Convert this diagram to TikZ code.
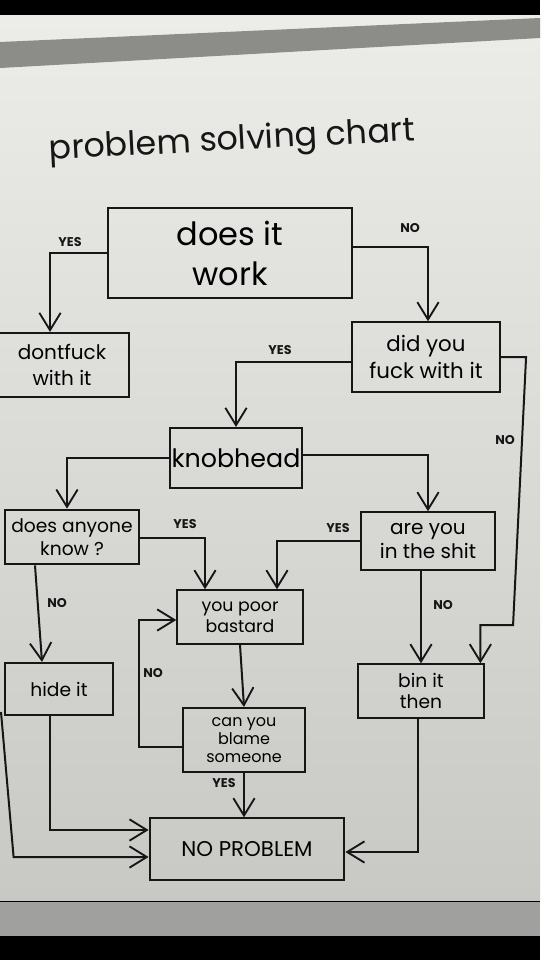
\documentclass[tikz,border=0pt]{standalone}
\usepackage{fontspec}
\setmainfont{Poppins}
\usetikzlibrary{arrows.meta,calc}
\definecolor{paper}{RGB}{236,236,233}
\definecolor{paperlow}{RGB}{200,200,197}
\definecolor{strip}{RGB}{140,140,136}
\definecolor{ink}{RGB}{22,22,22}
\tikzset{every picture/.style={line width=1.5pt}}
\tikzset{
  chartbox/.style={draw=ink, align=center, inner sep=1pt, line width=1.6pt},
  yesno/.style={font=\bfseries\fontsize{9.5}{10}\selectfont, text=ink, inner sep=0.75pt},
  flow/.style={draw=ink, line width=1.5pt, -{Straight Barb[length=13pt,width=16pt,line width=1.4pt]}},
}

\begin{document}
\begin{tikzpicture}[x=0.75pt,y=0.75pt,yscale=-1,xscale=1]
\useasboundingbox (0,0) rectangle (540,960);

%Photo background
\fill[black] (0,0) rectangle (540,960);
\shade[top color=paper, bottom color=paperlow] (0,15) rectangle (540,900);
\fill[strip] (0,42) -- (540,18) -- (540,38) -- (0,68) -- cycle;
\fill[paperlow!80!black] (0,902) rectangle (540,936);

% Title
\node (title) [rotate=3, text=ink, font=\fontsize{25}{28}\selectfont] at (232,142) {problem solving chart};

% Boxes
\node (work) [chartbox, minimum width=183pt, minimum height=68pt, font=\fontsize{24}{30}\selectfont] at (230,253) {does it\\work};
\node (dfw) [chartbox, minimum width=101pt, minimum height=48pt, font=\fontsize{15}{19}\selectfont] at (62,365) {dontfuck\\with it};
\node (did) [chartbox, minimum width=111pt, minimum height=52pt, font=\fontsize{16}{20}\selectfont] at (426,357) {did you\\fuck with it};
\node (knob) [chartbox, minimum width=99pt, minimum height=45pt, font=\fontsize{19}{23}\selectfont] at (236,458) {knobhead};
\node (dany) [chartbox, minimum width=101pt, minimum height=41pt, font=\fontsize{14}{17}\selectfont] at (72,537) {does anyone\\know ?};
\node (ayou) [chartbox, minimum width=101pt, minimum height=43pt, font=\fontsize{15}{18}\selectfont] at (428,541) {are you\\in the shit};
\node (poor) [chartbox, minimum width=94pt, minimum height=40pt, font=\fontsize{13}{16}\selectfont] at (240,617) {you poor\\bastard};
\node (hide) [chartbox, minimum width=81pt, minimum height=39pt, font=\fontsize{14}{17}\selectfont] at (59,689) {hide it};
\node (bin) [chartbox, minimum width=95pt, minimum height=40pt, font=\fontsize{14}{16}\selectfont] at (421,691) {bin it\\then};
\node (can) [chartbox, minimum width=91pt, minimum height=48pt, font=\fontsize{12}{13.5}\selectfont] at (244,740) {can you\\blame\\someone};
\node (np) [chartbox, minimum width=146pt, minimum height=46pt, font=\fontsize{16}{19}\selectfont] at (247,849) {NO PROBLEM};

% Connectors
\draw[flow] (work.west) -| ($(dfw.north)+(-12,0)$);
\draw[flow] ($(work.east)+(0,-6)$) -| ($(did.north)+(2,0)$);
\draw[flow] ($(did.west)+(0,5)$) -| (knob.north);
\draw[flow] (did.east) -- ++(25,0) -- ++(-13,268) -| ($(bin.north east)+(-5,0)$);
\draw[flow] (knob.west) -| ($(dany.north)+(-5,0)$);
\draw[flow] ($(knob.east)+(0,-3)$) -| (ayou.north);
\draw[flow] ($(dany.east)+(0,1)$) -| ($(poor.north)+(-35,0)$);
\draw[flow] (ayou.west) -| ($(poor.north)+(37,0)$);
\draw[flow] ($(dany.south)+(-37,0)$) -- ($(hide.north)+(-17,0)$);
\draw[flow] (ayou.south -| bin.north) -- (bin.north);
\draw[flow] (poor.south) -- (can.north);
\draw[flow] ($(can.west)+(0,7)$) -- ++(-43,0) |- ($(poor.west)+(0,3)$);
\draw[flow] (can.south) -- ($(np.north)+(-3,0)$);
\draw[flow] ($(hide.south)+(-9,0)$) |- ($(np.west)+(0,-19)$);
\coordinate (edge) at (1,712);
\draw[flow] (edge) -- ($(np.west)+(-135,8)$) -- ($(np.west)+(0,8)$);
\draw[flow] ($(bin.south)+(-3,0)$) |- ($(np.east)+(0,3)$);

% Labels
\node (yes1) [yesno] at (70,242) {YES};
\node (no1) [yesno] at (410,228) {NO};
\node (yes2) [yesno] at (280,350) {YES};
\node (no2) [yesno] at (505,440) {NO};
\node (yes3) [yesno] at (185,524) {YES};
\node (yes4) [yesno] at (338,528) {YES};
\node (no3) [yesno] at (57,603) {NO};
\node (no4) [yesno] at (443,605) {NO};
\node (no5) [yesno] at (153,673) {NO};
\node (yes5) [yesno] at (224,783) {YES};

\end{tikzpicture}
\end{document}
